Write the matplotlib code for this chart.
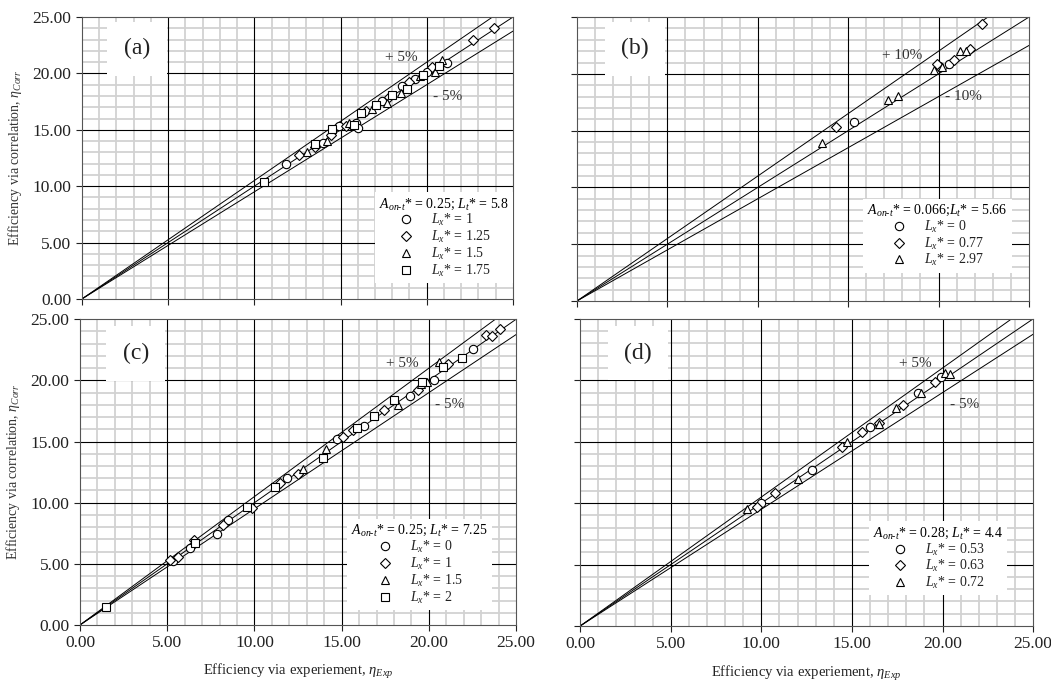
import matplotlib
matplotlib.use("Agg")
import matplotlib.pyplot as plt
import numpy as np

plt.rcParams['font.family'] = ['Liberation Serif', 'DejaVu Serif']
plt.rcParams['mathtext.fontset'] = 'custom'
plt.rcParams['mathtext.rm'] = 'Liberation Serif'
plt.rcParams['mathtext.it'] = 'Liberation Serif:italic'
plt.rcParams['mathtext.bf'] = 'Liberation Serif:bold'

# ---------------- data ----------------
# Panel (a): A_on-t* = 0.25; L_t* = 5.8
a_lx1_x = [11.83, 13.99, 14.9, 15.9, 16.0, 17.4, 18.58, 19.3, 20.0, 21.2]
a_lx1_y = [11.94, 13.86, 15.3, 15.6, 15.2, 17.6, 18.88, 19.5, 20.1, 20.9]
a_lx125_x = [12.59, 13.5, 14.42, 15.3, 16.5, 17.8, 19.0, 20.3, 22.7, 23.9]
a_lx125_y = [12.74, 13.44, 14.55, 15.3, 16.7, 17.9, 19.2, 20.6, 22.94, 24.05]
a_lx15_x = [13.03, 14.2, 15.5, 16.8, 17.7, 18.5, 19.6, 20.5, 20.86]
a_lx15_y = [13.06, 14.0, 15.6, 16.83, 17.4, 18.3, 19.8, 20.1, 21.19]
a_lx175_x = [10.56, 13.5, 14.48, 15.8, 16.18, 17.03, 18.0, 18.83, 19.8, 20.7]
a_lx175_y = [10.40, 13.74, 15.04, 15.4, 16.52, 17.17, 18.1, 18.6, 19.9, 20.7]

# Panel (b): A_on-t* = 0.066; L_t* = 5.66
b_lx0_x = [15.32, 20.0, 20.6]
b_lx0_y = [15.76, 20.7, 20.83]
b_lx077_x = [14.33, 19.93, 20.85, 21.74, 22.38]
b_lx077_y = [15.35, 20.86, 21.2, 22.15, 24.4]
b_lx297_x = [13.55, 17.18, 17.74, 19.75, 20.17, 21.18, 21.5]
b_lx297_y = [13.88, 17.69, 18.05, 20.33, 20.6, 22.05, 22.0]

# Panel (c): A_on-t* = 0.25; L_t* = 7.25
c_lx0_x = [5.33, 6.3, 7.84, 8.5, 11.85, 14.72, 16.3, 18.9, 20.3, 22.55]
c_lx0_y = [5.25, 6.27, 7.43, 8.58, 11.98, 15.24, 16.26, 18.7, 20.0, 22.6]
c_lx1_x = [5.16, 5.62, 6.55, 8.22, 9.84, 11.47, 12.49, 15.1, 15.67, 17.4, 19.4, 21.1, 23.3, 23.6, 24.1]
c_lx1_y = [5.31, 5.59, 6.94, 8.17, 9.6, 11.57, 12.38, 15.4, 15.93, 17.57, 19.2, 21.3, 23.7, 23.6, 24.2]
c_lx15_x = [12.78, 14.1, 18.2, 19.54, 20.55, 19.9]
c_lx15_y = [12.79, 14.35, 18.0, 19.7, 21.51, 19.9]
c_lx2_x = [1.49, 6.59, 9.55, 11.18, 13.91, 15.9, 16.86, 18.0, 19.6, 20.83, 21.89]
c_lx2_y = [1.44, 6.67, 9.66, 11.3, 13.67, 16.07, 17.08, 18.38, 19.9, 21.1, 21.79]

# Panel (d): A_on-t* = 0.28; L_t* = 4.4
d_lx053_x = [10.0, 12.79, 15.97, 18.67, 19.9]
d_lx053_y = [10.0, 12.72, 16.17, 18.95, 20.3]
d_lx063_x = [9.75, 10.76, 14.44, 15.55, 16.47, 17.84, 19.6]
d_lx063_y = [9.72, 10.86, 14.58, 15.8, 16.49, 17.99, 19.89]
d_lx072_x = [9.2, 12.05, 14.72, 16.5, 17.44, 18.8, 20.14, 20.4]
d_lx072_y = [9.5, 12.0, 14.98, 16.45, 17.72, 19.0, 20.58, 20.5]

major_ticks = [0, 5, 10, 15, 20, 25]
tick_labels = ["0.00", "5.00", "10.00", "15.00", "20.00", "25.00"]

panels = [
    dict(label="(a)", rect=[0.078, 0.563, 0.410, 0.412], band=0.05,
         title=r"$A_{on\text{-}t}$* = 0.25; $L_t$* = 5.8",
         series=[(a_lx1_x, a_lx1_y, 'o', r"$L_x$* = 1"),
                 (a_lx125_x, a_lx125_y, 'D', r"$L_x$* = 1.25"),
                 (a_lx15_x, a_lx15_y, '^', r"$L_x$* = 1.5"),
                 (a_lx175_x, a_lx175_y, 's', r"$L_x$* = 1.75")],
         anchor=(1.0, 0.057), xlab=False, ylab=True),
    dict(label="(b)", rect=[0.549, 0.560, 0.430, 0.415], band=0.10,
         title=r"$A_{on\text{-}t}$* = 0.066;$L_t$* = 5.66",
         series=[(b_lx0_x, b_lx0_y, 'o', r"$L_x$* = 0"),
                 (b_lx077_x, b_lx077_y, 'D', r"$L_x$* = 0.77"),
                 (b_lx297_x, b_lx297_y, '^', r"$L_x$* = 2.97")],
         anchor=(0.962, 0.10), xlab=False, ylab=False),
    dict(label="(c)", rect=[0.0761, 0.0863, 0.415, 0.447], band=0.05,
         title=r"$A_{on\text{-}t}$* = 0.25; $L_t$* = 7.25",
         series=[(c_lx0_x, c_lx0_y, 'o', r"$L_x$* = 0"),
                 (c_lx1_x, c_lx1_y, 'D', r"$L_x$* = 1"),
                 (c_lx15_x, c_lx15_y, '^', r"$L_x$* = 1.5"),
                 (c_lx2_x, c_lx2_y, 's', r"$L_x$* = 2")],
         anchor=(0.945, 0.05), xlab=True, ylab=True),
    dict(label="(d)", rect=[0.552, 0.0848, 0.431, 0.449], band=0.05,
         title=r"$A_{on\text{-}t}$* = 0.28; $L_t$* = 4.4",
         series=[(d_lx053_x, d_lx053_y, 'o', r"$L_x$* = 0.53"),
                 (d_lx063_x, d_lx063_y, 'D', r"$L_x$* = 0.63"),
                 (d_lx072_x, d_lx072_y, '^', r"$L_x$* = 0.72")],
         anchor=(0.943, 0.10), xlab=True, ylab=False),
]

minor_ticks = [v for v in range(0, 26) if v % 5 != 0]

fig = plt.figure(figsize=(10.51, 6.84), dpi=100)

for p in panels:
    ax = fig.add_axes(p["rect"])
    ax.set_xlim(0, 25)
    ax.set_ylim(0, 25)
    ax.set_xticks(major_ticks)
    ax.set_yticks(major_ticks)
    ax.set_xticks(minor_ticks, minor=True)
    ax.set_yticks(minor_ticks, minor=True)
    ax.grid(which='minor', color='#d2d2d2', linewidth=1.3)
    # major grid drawn above the minor one
    for v in major_ticks[1:-1]:
        ax.axvline(v, color='black', linewidth=0.8, zorder=1)
        ax.axhline(v, color='black', linewidth=0.8, zorder=1)
    ax.tick_params(which='minor', length=0)
    ax.tick_params(which='major', length=4, width=0.8, direction='out',
                   labelsize=12.5, colors='#222222')
    ax.set_axisbelow(True)
    for s in ax.spines.values():
        s.set_color('#555555')
        s.set_linewidth(0.8)
    if p["xlab"]:
        ax.set_xticklabels(tick_labels)
        ax.set_xlabel(r"Efficiency via experiement, $\eta_{Exp}$", fontsize=10.5,
                      color='#222222', labelpad=8)
    else:
        ax.set_xticklabels([])
    if p["ylab"]:
        ax.set_yticklabels(tick_labels)
        ax.set_ylabel(r"Efficiency via correlation, $\eta_{Corr}$", fontsize=10,
                      color='#333333', labelpad=6)
    else:
        ax.set_yticklabels([])

    # reference lines
    xs = np.array([0, 30])
    b = p["band"]
    for f in (1.0, 1 + b, 1 - b):
        ax.plot(xs, f * xs, color='black', linewidth=0.7, zorder=2)
    pct = int(round(b * 100))
    ax.text(18.5 if b < 0.08 else 18.0, 21.4 if b < 0.08 else 21.6, f"+ {pct}%",
            ha='center', va='center', fontsize=11, color='#333333', zorder=3)
    ax.text(21.2 if b < 0.08 else 21.4, 18.0, f"- {pct}%",
            ha='center', va='center', fontsize=11, color='#333333', zorder=3)

    handles = []
    for (x, y, m, lab) in p["series"]:
        ms = 6 if m in ('o', 's', '^') else 5.2
        h, = ax.plot(x, y, linestyle='none', marker=m, markersize=ms,
                     markerfacecolor='white', markeredgecolor='black',
                     markeredgewidth=0.8, label=lab, zorder=4)
        handles.append(h)

    leg = ax.legend(handles=handles, title=p["title"], loc='lower right',
                    bbox_to_anchor=p["anchor"], frameon=True, fontsize=10,
                    title_fontsize=10, handlelength=1.2, handletextpad=1.2,
                    labelspacing=0.05, borderpad=0.3, borderaxespad=0.0,
                    fancybox=False, edgecolor='white', framealpha=1.0)
    leg.get_frame().set_linewidth(0)
    leg._legend_box.align = "center"
    for t in leg.get_texts():
        t.set_color('#222222')
    leg.set_zorder(5)

    ax.text(3.2, 22.2, p["label"], ha='center', va='center', fontsize=17,
            color='#222222', zorder=5,
            bbox=dict(boxstyle='square,pad=0.7', facecolor='white',
                      edgecolor='none'))

fig.savefig("out.png", dpi=100)
